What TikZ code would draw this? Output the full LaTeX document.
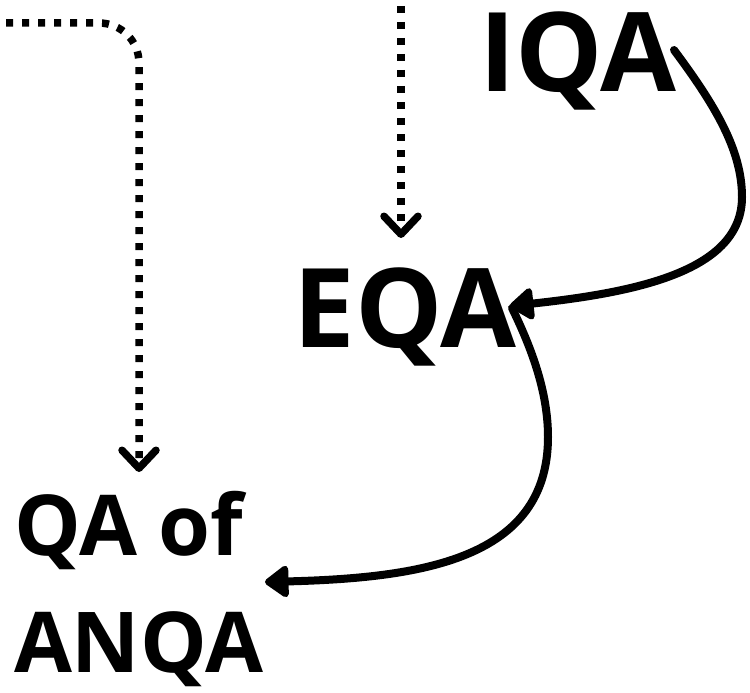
\documentclass[tikz,border=0pt]{standalone}
\usepackage{fontspec}
\setmainfont{Open Sans}
\usetikzlibrary{arrows.meta}
\begin{document}
\begin{tikzpicture}[x=1pt,y=-1pt,
  lbl/.style={inner sep=0pt, outer sep=0pt},
  bigfont/.style={font=\fontsize{110}{110}\selectfont\bfseries},
  midfont/.style={font=\fontsize{84}{117}\selectfont\bfseries},
  dotline/.style={line width=7.5pt, line cap=butt, dash pattern=on 7pt off 9pt,
    -{Straight Barb[length=18pt,width=34pt,round,line width=7.5pt]}},
  solidarrow/.style={line width=8pt, line cap=round,
    -{Triangle[length=26pt,width=36pt,round]}}]
\useasboundingbox (0,0) rectangle (750,693);
\node[lbl,bigfont,anchor=base] (iqa) at (578,92) {IQA};
\node[lbl,bigfont,anchor=base] (eqa) at (405,347) {EQA};
\node[lbl,midfont,anchor=base west,align=left] (qa) at (14,672) {QA of\\ANQA};
\coordinate (d1s) at (-10,23);
\coordinate (d1e) at (139,472);
\coordinate (d2s) at (401,-10);
\coordinate (d2e) at (401,238);
\coordinate (c1s) at (674,50);
\coordinate (c1m) at (742,197);
\coordinate (c1e) at (510,306);
\coordinate (c2s) at (512,308);
\coordinate (c2m) at (548,437);
\coordinate (c2e) at (265,582);
\draw[dotline, rounded corners=40pt] (d1s) -| (d1e);
\draw[dotline] (d2s) -- (d2e);
\draw[solidarrow] (c1s) .. controls (715,105) and (742,150) .. (c1m)
  .. controls (742,270) and (640,292) .. (c1e);
\draw[solidarrow] (c2s) .. controls (530,345) and (548,390) .. (c2m)
  .. controls (548,560) and (420,578) .. (c2e);
\end{tikzpicture}
\end{document}
